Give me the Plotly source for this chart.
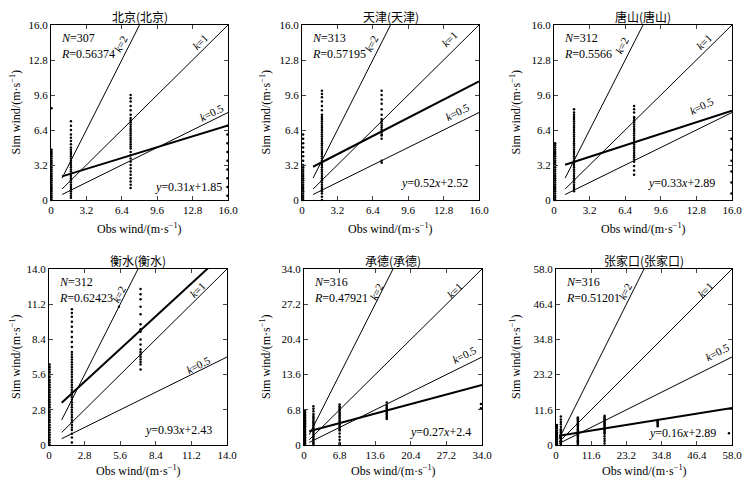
import plotly.graph_objects as go
from plotly.subplots import make_subplots

# station info
stations = ["北京(北京)", "天津(天津)", "唐山(唐山)", "衡水(衡水)", "承德(承德)", "张家口(张家口)"]
n_obs = [307, 313, 312, 312, 316, 316]
r_vals = ["0.56374", "0.57195", "0.5566", "0.62423", "0.47921", "0.51201"]
slopes = [0.31, 0.52, 0.33, 0.93, 0.27, 0.16]
intercepts = [1.85, 2.52, 2.89, 2.43, 2.4, 2.89]
axis_max = [16.0, 16.0, 16.0, 14.0, 34.0, 58.0]
ref_k = [2, 1, 0.5]
line_start = 1.0

tick_labels = [
    ["0", "3.2", "6.4", "9.6", "12.8", "16.0"],
    ["0", "3.2", "6.4", "9.6", "12.8", "16.0"],
    ["0", "3.2", "6.4", "9.6", "12.8", "16.0"],
    ["0", "2.8", "5.6", "8.4", "11.2", "14.0"],
    ["0", "6.8", "13.6", "20.4", "27.2", "34.0"],
    ["0", "11.6", "23.2", "34.8", "46.4", "58.0"],
]

# scatter columns: observed value -> simulated values
bj_obs = [0.05, 1.8, 7.2, 15.95]
bj_sim = [
    [0, 0.2, 0.4, 0.6, 0.8, 1.0, 1.2, 1.4, 1.6, 1.8, 2.0, 2.2, 2.4, 2.6, 2.8, 3.0, 3.2, 3.4,
     3.6, 3.8, 4.0, 4.2, 4.4, 4.6, 8.4],
    [0.2, 0.4, 0.6, 0.8, 1.0, 1.2, 1.4, 1.6, 1.8, 2.0, 2.2, 2.4, 2.6, 2.8, 3.0, 3.2, 3.4, 3.6,
     3.8, 4.0, 4.2, 4.4, 4.6, 4.8, 5.1, 5.4, 5.7, 6.0, 6.4, 6.8, 7.2],
    [1.1, 1.4, 1.7, 2.0, 2.3, 2.6, 2.9, 3.2, 3.5, 3.8, 4.1, 4.4, 4.7, 4.9, 5.1, 5.3, 5.5, 5.7,
     5.9, 6.1, 6.3, 6.5, 6.7, 6.9, 7.1, 7.3, 7.5, 7.8, 8.2, 8.6, 9.0, 9.3, 9.6],
    [0.4, 1.2, 2.0, 2.8, 3.6, 4.4, 5.2, 6.0, 6.8],
]
tj_obs = [0.1, 1.8, 7.2]
tj_sim = [
    [0, 0.2, 0.4, 0.6, 0.8, 1.0, 1.2, 1.4, 1.6, 1.8, 2.0, 2.2, 2.4, 2.6, 2.8, 3.0, 3.2, 3.6,
     4.0, 4.4, 4.8, 5.2, 5.6, 6.0],
    [0, 0.3, 0.6, 0.8, 1.0, 1.2, 1.4, 1.6, 1.8, 2.0, 2.2, 2.4, 2.6, 2.8, 3.0, 3.2, 3.4, 3.6,
     3.8, 4.0, 4.2, 4.4, 4.6, 4.8, 5.0, 5.2, 5.4, 5.6, 5.8, 6.0, 6.2, 6.4, 6.6, 6.8, 7.0, 7.2,
     7.4, 7.6, 7.8, 8.2, 8.6, 9.0, 9.4, 9.7, 10.0],
    [3.4, 3.6, 5.6, 5.9, 6.0, 6.2, 6.4, 6.6, 6.8, 7.0, 7.2, 7.4, 7.8, 8.3, 8.8, 9.2, 9.6, 10.0],
]
ts_obs = [0.1, 1.8, 7.2, 15.95]
ts_sim = [
    [0, 0.2, 0.4, 0.6, 0.8, 1.0, 1.2, 1.4, 1.6, 1.8, 2.0, 2.2, 2.4, 2.6, 2.8, 3.0, 3.2, 3.4,
     3.6, 3.8, 4.0, 4.2, 4.4, 4.6, 4.8, 5.0, 5.2],
    [0.8, 1.0, 1.2, 1.4, 1.6, 1.8, 2.0, 2.2, 2.4, 2.6, 2.8, 3.0, 3.2, 3.4, 3.6, 3.8, 4.0, 4.2,
     4.4, 4.6, 4.8, 5.0, 5.2, 5.4, 5.6, 5.8, 6.0, 6.2, 6.4, 6.6, 6.8, 7.0, 7.2, 7.4, 7.6, 7.8,
     8.0, 8.3],
    [2.3, 2.7, 3.1, 3.5, 3.7, 3.9, 4.1, 4.3, 4.5, 4.7, 4.9, 5.1, 5.3, 5.5, 5.7, 5.9, 6.1, 6.3,
     6.5, 6.7, 6.9, 7.1, 7.3, 7.5, 7.6, 8.0, 8.3, 8.6],
    [0.6, 1.6, 2.6, 3.6, 4.6, 5.6],
]
hs_obs = [0.05, 1.8, 7.2, 5.5]
hs_sim = [
    [0, 0.2, 0.4, 0.6, 0.8, 1.0, 1.2, 1.4, 1.6, 1.8, 2.0, 2.2, 2.4, 2.6, 2.8, 3.0, 3.2, 3.4,
     3.6, 3.8, 4.0, 4.2, 4.4, 4.6, 4.8, 5.0, 5.2, 5.4, 5.6, 5.8, 6.0, 6.2, 6.4],
    [0.2, 0.6, 0.9, 1.2, 1.4, 1.6, 1.8, 2.0, 2.2, 2.4, 2.6, 2.8, 3.0, 3.2, 3.4, 3.6, 3.8, 4.0,
     4.2, 4.4, 4.6, 4.8, 5.0, 5.2, 5.4, 5.6, 5.8, 6.0, 6.2, 6.4, 6.6, 6.8, 7.0, 7.2, 7.4, 7.8,
     8.2, 8.6, 9.0, 9.4, 9.8, 10.2, 10.5, 10.8],
    [6.0, 6.4, 6.6, 6.8, 7.0, 7.2, 7.4, 7.6, 8.0, 8.4, 9.0, 9.2, 9.6, 10.4, 11.0, 11.6, 12.0,
     12.4],
    [11.0],
]
cd_obs = [0.2, 1.8, 6.8, 15.8, 33.8]
cd_sim = [
    [0, 0.3, 0.6, 0.9, 1.2, 1.5, 1.8, 2.1, 2.4, 2.7, 3.0, 3.3, 3.6, 3.9, 4.2, 4.5, 4.8, 5.1,
     5.4, 5.7, 6.0, 6.3, 6.6],
    [0, 0.3, 0.5, 0.8, 1.1, 1.4, 1.7, 2.0, 2.3, 2.6, 2.9, 3.2, 3.5, 3.8, 4.1, 4.4, 4.7, 5.0,
     5.3, 5.6, 6.0, 6.5, 7.0, 7.5],
    [0, 0.2, 0.4, 1.0, 1.6, 2.2, 2.8, 3.0, 3.3, 3.6, 3.9, 4.2, 4.5, 4.8, 5.1, 5.4, 5.7, 6.0,
     6.3, 6.6, 6.9, 7.2, 7.5, 7.8],
    [5.0, 5.3, 5.6, 5.9, 6.2, 6.5, 6.8, 7.1, 7.4, 7.7, 8.2],
    [7.1, 7.9],
]
zjk_obs = [0.3, 1.6, 7.2, 16.0, 33.5, 57.0]
zjk_sim = [
    [0, 0.6, 1.2, 1.8, 2.4, 3.0, 3.6, 4.2, 4.8, 5.4, 6.0, 6.6],
    [0, 0.4, 0.8, 1.2, 1.6, 2.0, 2.4, 2.8, 3.2, 3.6, 4.0, 4.4, 4.8, 5.2, 6.0, 6.8, 7.6, 8.4,
     9.4],
    [0, 0.4, 0.8, 1.2, 1.6, 2.0, 2.4, 2.8, 3.2, 3.6, 4.0, 4.4, 4.8, 5.2, 5.6, 6.0, 6.4, 6.8,
     7.2, 7.6, 8.0, 8.4, 8.8, 9.1],
    [0.5, 1.3, 2.1, 2.9, 3.7, 4.0, 4.4, 4.8, 5.2, 5.6, 6.0, 6.4, 6.8, 7.2, 7.6, 8.0, 8.4, 8.8,
     9.2, 9.6],
    [6.2, 6.6, 7.0, 7.4, 7.8, 8.2],
    [3.9],
]
obs_cols = [bj_obs, tj_obs, ts_obs, hs_obs, cd_obs, zjk_obs]
sim_cols = [bj_sim, tj_sim, ts_sim, hs_sim, cd_sim, zjk_sim]

# page has an 8px body margin, so the figure is drawn at (8, 8)
W, H, OFF = 742, 476, 8


def px_x(p):
    return (p - OFF) / W


def px_y(p):
    return 1 - (p - OFF) / H


# panel boxes in page pixels: left, right, top, bottom
boxes = [(51, 228, 25, 200), (302, 479, 25, 200), (554, 732, 25, 200),
         (49, 227, 269, 445), (304, 482, 269, 445), (556, 732, 269, 445)]
ylab_px = [15, 265, 515, 15, 265, 515]
xlab_py = [228, 228, 228, 470, 470, 470]
title_py = [16, 16, 16, 260, 260, 260]
# k-label positions inside each panel (domain fractions), sitting just above each line
k_pos = [
    [(0.392, 0.894), (0.842, 0.903), (0.904, 0.498)],
    [(0.39, 0.893), (0.833, 0.922), (0.879, 0.502)],
    [(0.385, 0.883), (0.843, 0.902), (0.829, 0.537)],
    [(0.395, 0.856), (0.833, 0.883), (0.839, 0.452)],
    [(0.41, 0.874), (0.848, 0.883), (0.899, 0.51)],
    [(0.395, 0.873), (0.848, 0.882), (0.919, 0.527)],
]
k_angle = [-63, -45, -27]
eq_pos = [(0.98, 0.076), (0.95, 0.095), (0.915, 0.095), (0.925, 0.085), (0.95, 0.076), (0.92, 0.066)]

SERIF = "Liberation Serif, Times New Roman, serif"
CJK = "Noto Sans CJK SC"

fig = make_subplots(rows=2, cols=3)
annotations = []


def note(**kw):
    base = dict(showarrow=False, xanchor="center", yanchor="middle")
    base.update(kw)
    annotations.append(base)


for i in range(6):
    row, col = i // 3 + 1, i % 3 + 1
    xs, ys = [], []
    for xo, col_vals in zip(obs_cols[i], sim_cols[i]):
        xs += [xo] * len(col_vals)
        ys += col_vals
    fig.add_trace(go.Scatter(x=xs, y=ys, mode="markers", cliponaxis=False,
                             marker=dict(color="black", size=2.5)), row=row, col=col)
    xm = axis_max[i]
    for k in ref_k:
        fig.add_trace(go.Scatter(x=[line_start, xm], y=[k * line_start, k * xm], mode="lines",
                                 line=dict(color="black", width=1)), row=row, col=col)
    fig.add_trace(go.Scatter(x=[line_start, xm],
                             y=[slopes[i] * line_start + intercepts[i], slopes[i] * xm + intercepts[i]],
                             mode="lines", line=dict(color="black", width=2)), row=row, col=col)

    l, r, t, b = boxes[i]
    n = "" if i == 0 else str(i + 1)
    tv = [float(v) for v in tick_labels[i]]
    ax = dict(range=[0, xm], tickvals=tv, ticktext=tick_labels[i], ticks="inside", ticklen=4,
              showline=True, linecolor="black", linewidth=1, mirror="ticks", showgrid=False,
              zeroline=False, automargin=False,
              tickfont=dict(family=SERIF, size=11, color="black"))
    fig.layout["xaxis" + n].update(domain=[px_x(l), px_x(r)], **ax)
    fig.layout["yaxis" + n].update(domain=[px_y(b), px_y(t)], **ax)

    xr, yr = "x" + n + " domain", "y" + n + " domain"
    for lab, (fx, fy), ang in zip(["2", "1", "0.5"], k_pos[i], k_angle):
        note(xref=xr, yref=yr, x=fx, y=fy, text="<i>k</i>=" + lab, textangle=ang,
             font=dict(family=SERIF, size=11, color="black"))
    note(xref=xr, yref=yr, x=0.045, y=0.975, xanchor="left", yanchor="top", align="left",
         text="<i>N</i>=%d<br><i>R</i>=%s" % (n_obs[i], r_vals[i]),
         font=dict(family=SERIF, size=12, color="black"))
    ex, ey = eq_pos[i]
    note(xref=xr, yref=yr, x=ex, y=ey, xanchor="right",
         text="<i>y</i>=%g<i>x</i>+%g" % (slopes[i], intercepts[i]),
         font=dict(family=SERIF, size=12, color="black"))
    xc = px_x((l + r) / 2)
    yc = px_y((t + b) / 2)
    note(xref="paper", yref="paper", x=xc, y=px_y(title_py[i]), text=stations[i],
         font=dict(family=CJK, size=12, color="black"))
    note(xref="paper", yref="paper", x=xc, y=px_y(xlab_py[i]),
         text="Obs wind/(m·s<sup>−1</sup>)", font=dict(family=SERIF, size=12, color="black"))
    note(xref="paper", yref="paper", x=px_x(ylab_px[i]), y=yc, textangle=-90,
         text="Sim wind/(m·s<sup>−1</sup>)", font=dict(family=SERIF, size=12, color="black"))

fig.update_layout(width=W, height=H, margin=dict(l=0, r=0, t=0, b=0),
                  plot_bgcolor="white", paper_bgcolor="white", showlegend=False,
                  annotations=annotations)
fig.write_html("out.html")
